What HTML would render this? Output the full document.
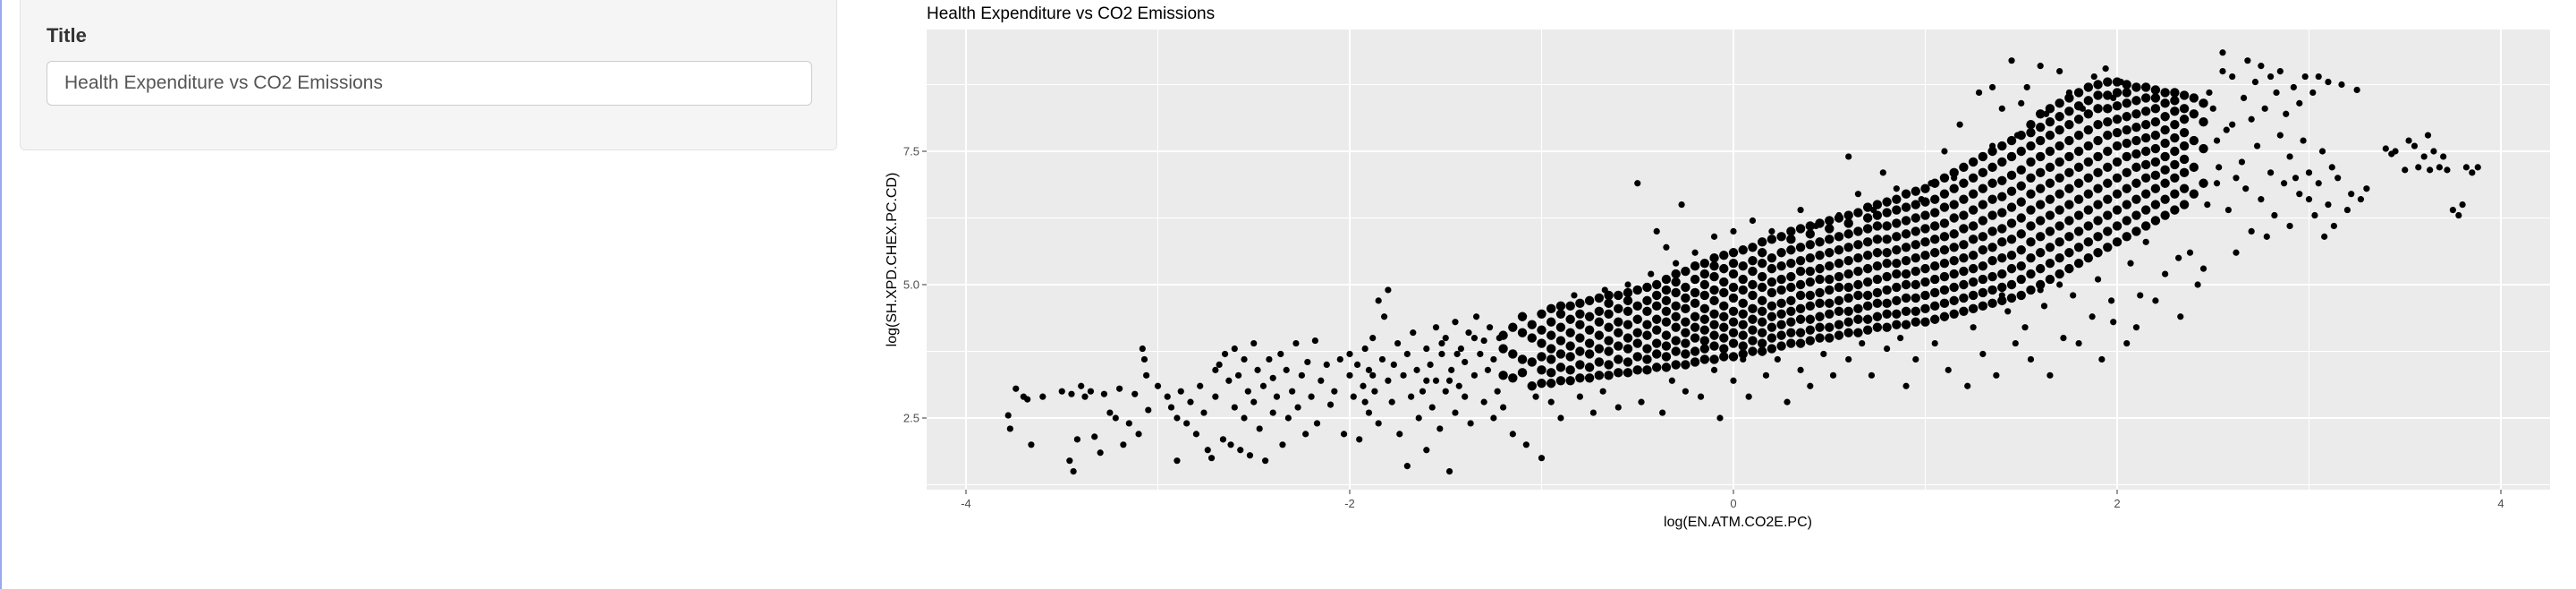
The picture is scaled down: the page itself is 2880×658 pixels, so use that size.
<!DOCTYPE html>
<html><head><meta charset="utf-8">
<style>
html,body{margin:0;padding:0;background:#fff;}
body{width:2880px;height:658px;position:relative;overflow:hidden;font-family:"Liberation Sans",sans-serif;}
#edge{position:absolute;left:0;top:0;width:2px;height:658px;background:#9aa8ee;}
#well{position:absolute;left:22px;top:-4px;width:914px;height:172px;background:#f5f5f5;border:1px solid #e3e3e3;border-radius:6px;box-sizing:border-box;}
#lbl{position:absolute;left:29px;top:30px;font-weight:bold;font-size:22px;color:#333;}
#inp{position:absolute;left:29px;top:71px;width:856px;height:50px;background:#fff;border:1px solid #ccc;border-radius:6px;box-sizing:border-box;font-size:21px;color:#555;padding:0 0 0 19px;line-height:48px;}
svg{position:absolute;left:0;top:0;}
</style></head><body>
<div id="edge"></div>
<div id="well">
  <div id="lbl">Title</div>
  <div id="inp">Health Expenditure vs CO2 Emissions</div>
</div>
<svg id="chart" width="2880" height="658">
  <text x="1036" y="21" font-size="19" fill="#000" font-family="Liberation Sans, sans-serif">Health Expenditure vs CO2 Emissions</text>
  <rect x="1036" y="33" width="1815" height="514" fill="#ebebeb"/>
  <g id="grid"></g><g id="pts"></g><g id="axes"></g>
  <text x="1943" y="588" font-size="16" fill="#000" text-anchor="middle" font-family="Liberation Sans, sans-serif">log(EN.ATM.CO2E.PC)</text>
  <text x="0" y="0" font-size="16" fill="#000" text-anchor="middle" font-family="Liberation Sans, sans-serif" transform="translate(1002,290) rotate(-90)">log(SH.XPD.CHEX.PC.CD)</text>
</svg>
<script>
const xTicks=[-4,-2,0,2,4];
const xMinor=[-3,-1,1,3];
const yTicks=[2.5,5.0,7.5];
const yMinor=[1.25,3.75,6.25,8.75];
const co2HealthPairs=[
[-3.78,2.55],[-3.77,2.3],[-3.74,3.05],[-3.7,2.9],[-3.66,2.0],[-3.68,2.85],[-3.6,2.9],[-3.5,3.0],[-3.46,1.7],[-3.44,1.5],[-3.45,2.95],[-3.42,2.1],[-3.4,3.1],[-3.38,2.9],[-3.35,3.0],[-3.33,2.15],[-3.3,1.85],[-3.28,2.95],[-3.25,2.6],[-3.22,2.5],[-3.2,3.05],[-3.18,2.0],[-3.15,2.4],[-3.12,2.95],[-3.08,3.8],[-3.07,3.6],[-3.06,3.3],[-3.05,2.65],[-3.0,3.1],[-3.1,2.2],
[-2.95,2.9],[-2.93,2.7],[-2.9,1.7],[-2.9,2.5],[-2.88,3.0],[-2.85,2.4],[-2.83,2.8],[-2.8,2.2],[-2.78,3.1],[-2.76,2.6],[-2.74,1.9],[-2.72,1.75],[-2.7,3.4],[-2.7,2.9],[-2.68,3.5],[-2.66,2.1],[-2.65,3.7],[-2.63,3.2],[-2.62,2.0],[-2.6,3.8],[-2.6,2.7],[-2.58,3.3],[-2.57,1.9],[-2.55,2.5],[-2.55,3.6],[-2.53,3.0],[-2.52,1.8],[-2.5,3.9],[-2.5,2.8],[-2.48,3.4],[-2.47,2.3],[-2.45,3.1],[-2.44,1.7],[-2.42,3.6],[-2.4,2.6],[-2.4,3.25],[-2.38,2.9],[-2.36,3.7],[-2.35,2.0],[-2.33,3.4],[-2.32,2.5],[-2.3,3.0],[-2.28,3.9],[-2.27,2.7],[-2.25,3.3],[-2.23,2.2],[-2.22,3.55],[-2.2,2.9],[-2.18,3.95],[-2.17,2.4],[-2.15,3.2],[-2.12,3.5],[-2.1,2.75],[-2.08,3.0],[-2.05,3.6],[-2.03,2.2],[-2.0,3.3],[-2.0,3.7],
[-1.98,2.9],[-1.96,3.5],[-1.95,2.1],[-1.93,3.1],[-1.92,3.8],[-1.9,2.6],[-1.9,3.4],[-1.88,4.0],[-1.87,3.0],[-1.85,4.7],[-1.85,2.4],[-1.83,3.6],[-1.82,4.4],[-1.8,3.2],[-1.8,4.9],[-1.78,2.8],[-1.77,3.5],[-1.75,3.9],[-1.74,2.2],[-1.72,3.3],[-1.7,1.6],[-1.7,3.7],[-1.68,2.9],[-1.67,4.1],[-1.64,2.5],[-1.6,1.9],[-1.57,2.7],[-1.53,2.3],[-1.48,1.5],[-1.45,2.6],[-1.37,2.4],[-1.3,2.8],[-1.25,2.5],[-1.2,2.7],[-1.15,2.2],[-1.08,2.0],[-1.03,2.9],[-1.0,1.75],[-1.88,3.3],[-1.92,2.8],
[-1.6,3.8],[-1.58,3.5],[-1.55,4.2],[-1.55,3.2],[-1.52,3.7],[-1.5,3.0],[-1.5,4.0],[-1.47,3.4],[-1.45,4.3],[-1.43,3.1],[-1.42,3.8],[-1.4,2.9],[-1.4,3.55],[-1.38,4.1],[-1.35,3.3],[-1.34,4.4],[-1.32,3.7],[-1.3,3.95],[-1.28,3.4],[-1.27,4.2],[-1.25,3.6],[-1.23,3.0],[-1.22,4.0],[-1.65,3.4],[-1.62,3.0],[-1.6,3.2],[-1.48,3.2],[-1.35,4.0],[-1.52,3.9],[-1.44,3.7],
[-0.95,2.8],[-0.9,2.5],[-0.83,4.8],[-0.8,2.9],[-0.73,2.6],[-0.68,3.0],[-0.67,4.9],[-0.6,2.7],[-0.55,5.0],[-0.5,6.9],[-0.48,2.8],[-0.43,5.2],[-0.4,6.0],[-0.37,2.6],[-0.35,5.7],[-0.32,3.2],[-0.3,5.4],[-0.27,6.5],[-0.25,3.0],[-0.2,5.6],[-0.17,2.9],[-0.1,5.9],[-0.07,2.5],[-0.1,3.4],[0.0,6.0],[0.0,3.2],
[0.05,3.6],[0.08,2.9],[0.1,6.2],[0.17,3.3],[0.2,6.0],[0.23,3.6],[0.28,2.8],[0.35,6.4],[0.35,3.4],[0.4,3.1],[0.43,6.1],[0.47,3.7],[0.52,3.3],[0.55,6.3],[0.6,7.4],[0.6,3.6],[0.65,6.7],[0.67,3.9],[0.72,3.3],[0.73,6.4],[0.78,7.1],[0.8,3.8],[0.85,6.8],[0.87,4.0],[0.9,3.1],[0.95,3.6],[0.98,6.6],
[1.03,6.9],[1.05,3.9],[1.1,7.5],[1.12,3.4],[1.15,7.0],[1.18,8.0],[1.22,3.1],[1.25,7.3],[1.25,4.2],[1.28,8.6],[1.3,3.7],[1.35,7.6],[1.37,3.3],[1.4,8.3],[1.43,4.5],[1.45,9.2],[1.47,3.9],[1.48,7.8],[1.52,4.2],[1.53,8.7],[1.55,3.6],[1.6,9.1],[1.62,4.6],[1.63,8.2],[1.65,3.3],[1.7,9.0],[1.72,4.0],[1.75,8.6],[1.77,4.8],[1.8,3.9],[1.82,8.3],[1.87,4.4],[1.88,8.9],[1.92,3.6],[1.97,4.7],[1.98,8.5],[1.5,8.4],[1.35,8.7],[1.6,4.9],[1.8,5.4],[1.4,4.8],[1.7,5.0],[1.9,5.1],[1.98,4.3],[1.94,9.05],
[2.02,8.8],[2.05,3.9],[2.07,5.4],[2.1,4.2],[2.15,5.8],[2.2,4.7],[2.25,5.2],[2.33,4.4],[2.38,5.6],[2.45,5.3],[2.12,4.8],[2.32,5.5],[2.42,5.0],[2.55,9.0],[2.52,7.7],[2.47,6.5],[2.5,8.3],[2.52,6.9],[2.48,8.6],[2.53,7.2],
[2.55,9.35],[2.58,6.4],[2.6,8.0],[2.62,5.6],[2.65,7.3],[2.67,6.8],[2.68,9.2],[2.7,6.0],[2.72,8.8],[2.73,7.6],[2.75,9.1],[2.75,6.6],[2.77,8.3],[2.78,5.9],[2.8,8.9],[2.8,7.1],[2.82,6.3],[2.83,8.6],[2.85,7.8],[2.85,9.0],[2.87,6.9],[2.88,8.2],[2.9,7.4],[2.9,6.1],[2.92,8.7],[2.93,7.0],[2.95,8.4],[2.95,6.7],[2.97,7.7],[2.98,8.9],[3.0,6.6],[3.0,7.1],[3.02,8.6],[3.03,6.3],[3.05,8.9],[3.05,6.9],[3.07,7.5],[3.08,5.9],[3.1,8.8],[3.1,6.5],[3.12,7.2],[3.13,6.1],[3.15,7.0],[3.17,8.75],[3.2,6.4],[3.22,6.7],[3.25,8.65],[3.27,6.6],[3.3,6.8],[2.6,8.9],[2.7,8.1],[2.66,8.5],[2.62,7.0],[2.57,7.9],
[3.4,7.55],[3.43,7.45],[3.45,7.5],[3.5,7.15],[3.52,7.7],[3.55,7.6],[3.57,7.2],[3.6,7.4],[3.62,7.8],[3.63,7.15],[3.65,7.5],[3.68,7.2],[3.7,7.4],[3.72,7.15],[3.75,6.4],[3.78,6.3],[3.8,6.5],[3.82,7.2],[3.85,7.1],[3.88,7.2]
];
/* dense core: x value per column and the observed y values in that column */
const coreX=[-1.2,-1.15,-1.1,-1.05,-1.0,-0.95,-0.9,-0.85,-0.8,-0.75,-0.7,-0.65,-0.6,-0.55,-0.5,-0.45,-0.4,-0.35,-0.3,-0.25,-0.2,-0.15,-0.1,-0.05,0.0,0.05,0.1,0.15,0.2,0.25,0.3,0.35,0.4,0.45,0.5,0.55,0.6,0.65,0.7,0.75,0.8,0.85,0.9,0.95,1.0,1.05,1.1,1.15,1.2,1.25,1.3,1.35,1.4,1.45,1.5,1.55,1.6,1.65,1.7,1.75,1.8,1.85,1.9,1.95,2.0,2.05,2.1,2.15,2.2,2.25,2.3,2.35,2.4,2.45];
const coreY=[
[3.3,3.8,4.05],[3.25,3.7,4.2],[3.35,3.6,4.1,4.4],[3.1,3.55,4.0,4.25],[3.15,3.4,3.65,3.9,4.15,4.45],[3.15,3.35,3.6,3.8,4.05,4.3,4.55],[3.2,3.45,3.7,3.95,4.2,4.45,4.6],[3.2,3.4,3.65,3.85,4.1,4.35,4.6],[3.25,3.5,3.75,4.0,4.25,4.45,4.65],[3.25,3.45,3.7,3.9,4.15,4.4,4.7],[3.3,3.55,3.8,4.05,4.3,4.5,4.75],[3.3,3.5,3.75,3.95,4.2,4.45,4.65,4.8],[3.35,3.6,3.85,4.1,4.3,4.55,4.8],[3.35,3.55,3.8,4.0,4.25,4.5,4.7,4.85],[3.4,3.65,3.9,4.1,4.35,4.6,4.9],[3.4,3.6,3.8,4.05,4.25,4.5,4.7,4.95],[3.45,3.7,3.9,4.15,4.35,4.6,4.8,5.0],[3.45,3.65,3.85,4.05,4.3,4.5,4.7,4.9,5.1],[3.5,3.75,3.95,4.2,4.4,4.6,4.85,5.05,5.2],[3.5,3.7,3.9,4.1,4.3,4.55,4.75,4.95,5.25],[3.55,3.75,4.0,4.2,4.4,4.65,4.85,5.1,5.35],[3.6,3.8,3.95,4.15,4.35,4.55,4.8,5.0,5.2,5.4],[3.6,3.85,4.05,4.25,4.45,4.7,4.9,5.15,5.35,5.5],[3.65,3.8,4.0,4.2,4.4,4.6,4.85,5.05,5.3,5.55],[3.65,3.9,4.1,4.3,4.5,4.75,4.95,5.2,5.4,5.6],[3.7,3.85,4.05,4.25,4.45,4.65,4.9,5.1,5.35,5.65],[3.75,3.95,4.15,4.35,4.55,4.8,5.0,5.25,5.45,5.7],[3.75,3.9,4.1,4.3,4.5,4.7,4.95,5.15,5.4,5.6,5.8],[3.8,4.0,4.2,4.4,4.6,4.85,5.05,5.3,5.5,5.85],[3.85,4.05,4.25,4.45,4.65,4.9,5.1,5.35,5.6,5.9],[3.9,4.1,4.3,4.5,4.7,4.95,5.15,5.4,5.65,5.85,6.0],[3.9,4.1,4.35,4.55,4.8,5.0,5.25,5.45,5.7,6.05],[3.95,4.15,4.35,4.6,4.8,5.05,5.25,5.5,5.75,5.95,6.1],[4.0,4.2,4.4,4.65,4.85,5.1,5.3,5.55,5.8,6.15],[4.0,4.2,4.45,4.65,4.9,5.1,5.35,5.6,5.85,6.05,6.2],[4.05,4.25,4.5,4.7,4.95,5.15,5.4,5.65,5.9,6.25],[4.1,4.3,4.5,4.75,4.95,5.2,5.45,5.7,5.95,6.15,6.3],[4.1,4.35,4.55,4.8,5.0,5.25,5.5,5.75,6.0,6.35],[4.15,4.35,4.6,4.8,5.05,5.3,5.55,5.8,6.05,6.25,6.45],[4.2,4.4,4.65,4.85,5.1,5.35,5.6,5.85,6.1,6.3,6.5],[4.2,4.45,4.65,4.9,5.15,5.4,5.6,5.85,6.1,6.35,6.55],[4.25,4.45,4.7,4.95,5.2,5.4,5.65,5.9,6.15,6.4,6.6],[4.25,4.5,4.75,5.0,5.2,5.45,5.7,5.95,6.2,6.45,6.7],[4.3,4.5,4.75,5.0,5.25,5.5,5.75,6.0,6.25,6.5,6.75],[4.3,4.55,4.8,5.05,5.3,5.55,5.8,6.05,6.3,6.55,6.8],[4.35,4.6,4.85,5.1,5.35,5.6,5.85,6.1,6.35,6.6,6.9],[4.4,4.65,4.9,5.15,5.4,5.65,5.9,6.15,6.45,6.7,7.0],[4.45,4.7,4.95,5.2,5.45,5.7,5.95,6.25,6.5,6.8,7.1],[4.5,4.75,5.0,5.25,5.5,5.75,6.05,6.3,6.6,6.9,7.2],[4.55,4.8,5.05,5.3,5.55,5.85,6.1,6.4,6.7,7.0,7.3],[4.6,4.85,5.1,5.35,5.65,5.9,6.2,6.5,6.8,7.1,7.4],[4.65,4.9,5.15,5.45,5.7,6.0,6.3,6.6,6.9,7.2,7.5],[4.7,4.95,5.2,5.5,5.8,6.05,6.35,6.65,6.95,7.3,7.6],[4.75,5.0,5.3,5.55,5.85,6.15,6.45,6.75,7.05,7.4,7.7],[4.8,5.1,5.35,5.65,5.95,6.25,6.55,6.85,7.15,7.5,7.8],[4.9,5.2,5.5,5.8,6.1,6.4,6.7,7.0,7.3,7.6,7.85,8.0],[5.0,5.3,5.6,5.9,6.2,6.5,6.8,7.1,7.4,7.7,7.95,8.2],[5.1,5.4,5.7,6.0,6.3,6.6,6.9,7.2,7.5,7.8,8.05,8.3],[5.2,5.5,5.8,6.1,6.4,6.7,7.0,7.3,7.6,7.9,8.15,8.4],[5.3,5.6,5.9,6.2,6.5,6.8,7.1,7.4,7.7,8.0,8.25,8.5],[5.4,5.7,6.0,6.3,6.6,6.9,7.2,7.5,7.8,8.1,8.35,8.6],[5.5,5.8,6.1,6.4,6.7,7.0,7.3,7.6,7.9,8.2,8.45,8.7],[5.6,5.9,6.2,6.5,6.8,7.1,7.4,7.7,8.0,8.3,8.55,8.75],[5.7,6.0,6.3,6.6,6.9,7.2,7.5,7.8,8.05,8.3,8.55,8.8],[5.8,6.1,6.4,6.7,7.0,7.3,7.6,7.85,8.1,8.35,8.6,8.8],[5.9,6.2,6.5,6.8,7.1,7.4,7.65,7.9,8.15,8.4,8.6,8.75],[6.0,6.3,6.6,6.9,7.2,7.45,7.7,7.95,8.2,8.45,8.7],[6.1,6.4,6.7,7.0,7.25,7.5,7.75,8.0,8.25,8.5,8.7],[6.2,6.5,6.8,7.05,7.3,7.55,7.8,8.05,8.3,8.5,8.65],[6.3,6.6,6.9,7.15,7.4,7.65,7.9,8.15,8.4,8.6],[6.4,6.7,7.0,7.25,7.5,7.75,8.0,8.25,8.45,8.6],[6.5,6.8,7.1,7.35,7.6,7.85,8.1,8.3,8.55],[6.7,7.2,7.7,8.2,8.5],[6.9,7.55,8.05,8.4]
];
const NS='http://www.w3.org/2000/svg';
const PX0=1036,PX1=2851,PY0=33,PY1=547;
function sx(v){return 1080+(v+4)*(2796-1080)/8;}
function sy(v){return 318-(v-5)*(149/2.5);}
function mk(tag,attrs,parent){const e=document.createElementNS(NS,tag);for(const k in attrs)e.setAttribute(k,attrs[k]);parent.appendChild(e);return e;}
const grid=document.getElementById('grid'),pts=document.getElementById('pts'),axes=document.getElementById('axes');
xMinor.forEach(v=>{const l=mk('line',{x1:sx(v),x2:sx(v),y1:PY0,y2:PY1,stroke:'#fff','stroke-width':1},grid);

});
yMinor.forEach(v=>{const l=mk('line',{x1:PX0,x2:PX1,y1:sy(v),y2:sy(v),stroke:'#fff','stroke-width':1},grid);

});
xTicks.forEach(v=>{const l=mk('line',{x1:sx(v),x2:sx(v),y1:PY0,y2:PY1,stroke:'#fff','stroke-width':2},grid);


const t=mk('line',{x1:sx(v),x2:sx(v),y1:PY1,y2:PY1+5,stroke:'#333','stroke-width':1},axes);


const tx=mk('text',{x:sx(v),y:PY1+20,'font-size':13,fill:'#4d4d4d','text-anchor':'middle','font-family':'Liberation Sans, sans-serif'},axes);
tx.textContent=String(v);

});
yTicks.forEach(v=>{const l=mk('line',{x1:PX0,x2:PX1,y1:sy(v),y2:sy(v),stroke:'#fff','stroke-width':2},grid);


const t=mk('line',{x1:PX0-5,x2:PX0,y1:sy(v),y2:sy(v),stroke:'#333','stroke-width':1},axes);


const tx=mk('text',{x:PX0-8,y:sy(v)+4.5,'font-size':13,fill:'#4d4d4d','text-anchor':'end','font-family':'Liberation Sans, sans-serif'},axes);
tx.textContent=v.toFixed(1);

});
co2HealthPairs.forEach(p=>{const c=mk('circle',{cx:sx(p[0]),cy:sy(p[1]),r:3.6,fill:'#000'},pts);

});
coreX.forEach((x,i)=>{coreY[i].forEach(y=>{const c=mk('circle',{cx:sx(x),cy:sy(y),r:5.2,fill:'#000'},pts);

});});
</script>
</body></html>
